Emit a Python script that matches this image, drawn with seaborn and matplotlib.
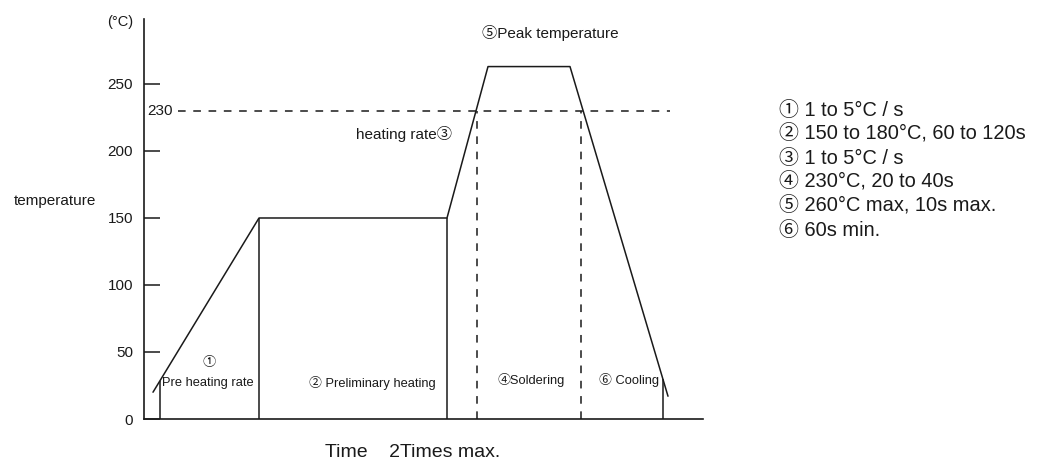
import numpy as np
import pandas as pd
import matplotlib
matplotlib.use("Agg")
import matplotlib.pyplot as plt
import seaborn as sns

# ---- data (time in arbitrary units, temperature in °C) ----
profile_time = [9, 115, 303, 344, 426, 524]
profile_temp = [20, 150, 150, 263, 263, 17]
solid_marks_time = [16, 115, 303, 519]          # solid verticals up to the profile
dashed_marks_time = [333, 437]                  # dashed verticals up to 230
threshold_temp = 230
threshold_span = [34, 526]
y_ticks = [0, 50, 100, 150, 200, 250]
legend_lines = ["① 1 to 5°C / s",
                "② 150 to 180°C, 60 to 120s",
                "③ 1 to 5°C / s",
                "④ 230°C, 20 to 40s",
                "⑤ 260°C max, 10s max.",
                "⑥ 60s min."]
zone_labels = ["Pre heating rate", "② Preliminary heating", "④Soldering", "⑥ Cooling"]
zone_label_time = [64, 228, 387, 485]
zone_label_temp = [27, 27, 29, 29]

sns.set_theme(style="white")
FAM = ["Liberation Sans", "Noto Sans CJK JP", "DejaVu Sans"]
plt.rcParams["font.family"] = FAM

W, H = 1037, 461
fig = plt.figure(figsize=(W / 100, H / 100), dpi=100)
ax = fig.add_axes([144 / W, 42 / H, (703 - 144) / W, (419 - 19) / H])

line_col = "#1a1a1a"
df = pd.DataFrame({"time": profile_time, "temp": profile_temp})
sns.lineplot(data=df, x="time", y="temp", sort=False, color=line_col, lw=1.1, ax=ax)

tops = np.interp(solid_marks_time, profile_time, profile_temp)
ax.vlines(solid_marks_time, 0, tops, color=line_col, lw=1.1)
ax.vlines(dashed_marks_time, 0, threshold_temp, color=line_col, lw=1.1,
          linestyles=(0, (5, 5)))
ax.hlines(threshold_temp, threshold_span[0], threshold_span[1], color=line_col,
          lw=1.1, linestyles=(0, (5, 5)))

ax.set_xlim(0, 559)
ax.set_ylim(0, 298.5)
ax.set_yticks(y_ticks)
ax.set_xticks([])
ax.tick_params(axis="y", direction="in", length=11.5, width=1.1, pad=8,
               labelsize=11, colors="#1a1a1a", left=True)
ax.set_xlabel("")
ax.set_ylabel("")
for s in ["top", "right"]:
    ax.spines[s].set_visible(False)
for s in ["left", "bottom"]:
    ax.spines[s].set_color("#1a1a1a")
    ax.spines[s].set_linewidth(1.2)

tc = "#1a1a1a"
ax.text(3, threshold_temp, "230", ha="left", va="center", fontsize=11, color=tc)
ax.text(-24, 296, "(°C)", ha="center", va="center", fontsize=10.5, color=tc, clip_on=False)
ax.text(-89, 163, "temperature", ha="center", va="center", fontsize=11, color=tc, clip_on=False)
ax.text(65, 42, "①", ha="center", va="center", fontsize=9.5, color=tc)
for t, x, y in zip(zone_labels, zone_label_time, zone_label_temp):
    ax.text(x, y, t, ha="center", va="center", fontsize=9.3, color=tc)
ax.text(260, 213, "heating rate③", ha="center", va="center", fontsize=11, color=tc)
ax.text(406, 288, "⑤Peak temperature", ha="center", va="center", fontsize=11, color=tc)

fig.text(325 / W, 1 - 452 / H, "Time    2Times max.", ha="left", va="center",
         fontsize=14, color=tc)
for i, line in enumerate(legend_lines):
    fig.text(779 / W, 1 - (110 + 24 * i) / H, line, ha="left", va="center",
             fontsize=14.4, color=tc)

fig.savefig("out.png", dpi=100, facecolor="white")
